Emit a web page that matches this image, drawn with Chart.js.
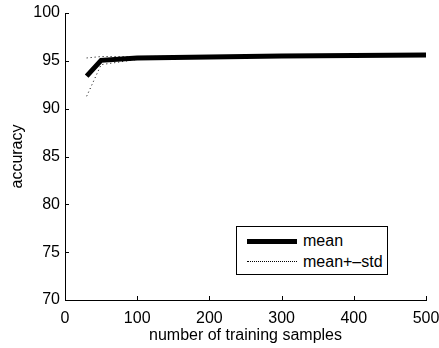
<!DOCTYPE html>
<html>
<head>
<meta charset="utf-8">
<script src="https://cdn.jsdelivr.net/npm/chart.js@4/dist/chart.umd.min.js"></script>
<style>
  html, body { margin: 0; padding: 0; background: #fff; }
  #wrap { position: relative; width: 439px; height: 348px; }
  #legend {
    position: absolute; left: 236px; top: 226px; width: 150px; height: 47px;
    border: 1px solid #000; background: #fff;
    font: 16px "Liberation Sans", Arial, sans-serif; color: #000;
  }
  .sample { position: absolute; left: 10px; width: 50px; }
  .lbl { position: absolute; left: 66px; line-height: 20px; white-space: nowrap; }
</style>
</head>
<body>
<div id="wrap">
  <canvas id="accChart" width="439" height="348"></canvas>
  <div id="legend">
    <div class="sample" style="top:12px;border-top:5px solid #000"></div>
    <span class="lbl" style="top:4px">mean</span>
    <div class="sample" style="top:34px;border-top:1px dotted #000"></div>
    <span class="lbl" style="top:25px">mean+–std</span>
  </div>
</div>
<script>
// ================== DATA ==================
const samples = [30, 50, 100, 200, 300, 400, 500];
const meanAcc = [93.4, 95.05, 95.3, 95.4, 95.5, 95.55, 95.62];
const upperAcc = [95.3, 95.45, 95.45, 95.5, 95.55, 95.6, 95.66];
const lowerAcc = [91.3, 94.6, 95.15, 95.3, 95.45, 95.5, 95.58];
const xTicks = [0, 100, 200, 300, 400, 500];
const yTicks = [70, 75, 80, 85, 90, 95, 100];

const pts = (ys) => samples.map((x, i) => ({ x, y: ys[i] }));
const font = { family: '"Liberation Sans", Arial, sans-serif', size: 16 };

// fixed axis boxes, no extra label padding
const fitBox = (w, h) => (s) => {
  if (w) s.width = w;
  if (h) s.height = h;
  s.paddingLeft = s.paddingRight = s.paddingTop = s.paddingBottom = 0;
};

// inward tick marks like matlab
const innerTicks = {
  id: "innerTicks",
  afterDraw(chart) {
    const { ctx, scales: { x, y } } = chart;
    ctx.save();
    ctx.strokeStyle = "#000";
    ctx.lineWidth = 1;
    ctx.beginPath();
    xTicks.forEach((v) => {
      const px = Math.round(x.getPixelForValue(v)) + 0.5;
      ctx.moveTo(px, y.bottom);
      ctx.lineTo(px, y.bottom - 4);
    });
    yTicks.forEach((v) => {
      const py = Math.round(y.getPixelForValue(v)) + 0.5;
      ctx.moveTo(x.left, py);
      ctx.lineTo(x.left + 4, py);
    });
    ctx.stroke();
    ctx.restore();
  },
};

new Chart(document.getElementById("accChart"), {
  type: "line",
  data: {
    datasets: [
      { label: "mean", data: pts(meanAcc), borderColor: "#000", borderWidth: 5, pointRadius: 0, tension: 0, borderJoinStyle: "miter", order: 0 },
      { label: "upper", data: pts(upperAcc), borderColor: "#000", borderWidth: 1, borderDash: [1, 3], pointRadius: 0, tension: 0, order: 1 },
      { label: "lower", data: pts(lowerAcc), borderColor: "#000", borderWidth: 1, borderDash: [1, 3], pointRadius: 0, tension: 0, order: 1 },
    ],
  },
  options: {
    responsive: false,
    animation: false,
    events: [],
    layout: { padding: { top: 13, right: 13, left: 0, bottom: 0 } },
    plugins: { legend: { display: false }, tooltip: { enabled: false } },
    scales: {
      x: {
        type: "linear",
        min: 0,
        max: 500,
        afterBuildTicks: (s) => { s.ticks = xTicks.map((v) => ({ value: v })); },
        afterFit: fitBox(0, 48),
        grid: { drawOnChartArea: false, drawTicks: false },
        border: { color: "#000", width: 1 },
        ticks: { color: "#000", font, padding: 9, maxRotation: 0 },
        title: { display: true, text: "number of training samples", color: "#000", font, padding: { top: 0, bottom: 3 } },
      },
      y: {
        min: 70,
        max: 100,
        afterBuildTicks: (s) => { s.ticks = yTicks.map((v) => ({ value: v })); },
        afterFit: fitBox(65, 0),
        grid: { drawOnChartArea: false, drawTicks: false },
        border: { color: "#000", width: 1 },
        ticks: { color: "#000", font, padding: 5 },
        title: { display: true, text: "accuracy", color: "#000", font, padding: { top: 8, bottom: 0 } },
      },
    },
  },
  plugins: [innerTicks],
});
</script>
</body>
</html>
